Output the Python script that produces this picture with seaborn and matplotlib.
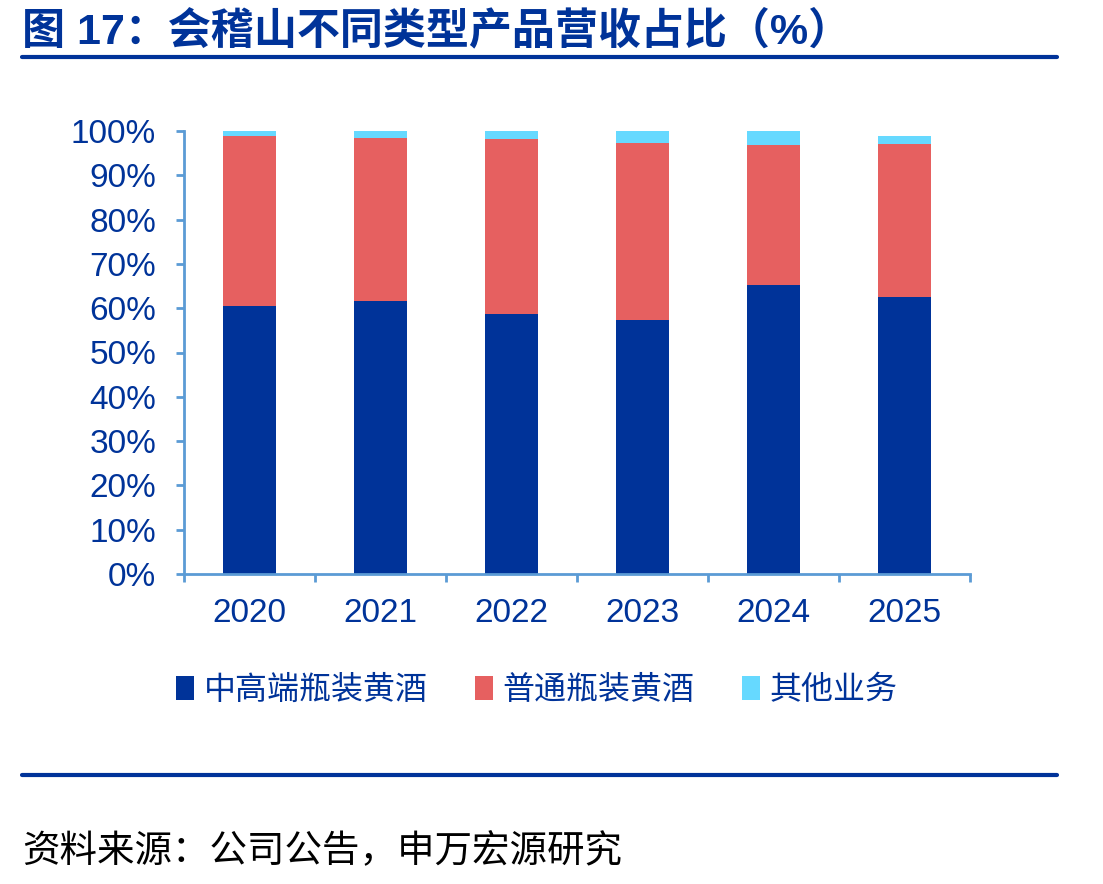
import numpy as np
import pandas as pd
import seaborn as sns
import matplotlib.pyplot as plt
from matplotlib.patches import Patch
from matplotlib.lines import Line2D

# 数据（%）
years = ["2020", "2021", "2022", "2023", "2024", "2025"]
high_end = [60.5, 61.6, 58.7, 57.3, 65.2, 62.5]
regular = [38.4, 36.9, 39.5, 40.0, 31.7, 34.6]
others = [1.1, 1.5, 1.8, 2.7, 3.1, 1.8]
series_names = ["中高端瓶装黄酒", "普通瓶装黄酒", "其他业务"]
colors = ["#003399", "#E66060", "#66D9FF"]

sns.set_theme(style="white")
plt.rcParams['font.family'] = ['Liberation Sans', 'Noto Sans CJK SC', 'DejaVu Sans']

navy = "#003399"
axis_blue = "#5B9BD5"

fig = plt.figure(figsize=(11.03, 8.84), dpi=100)
ax = fig.add_axes([184 / 1103, 1 - 574 / 884, (970 - 184) / 1103, (574 - 131) / 884])

# 累计值，从后往前画
cum1 = np.array(high_end)
cum2 = cum1 + np.array(regular)
cum3 = cum2 + np.array(others)
layers = [cum3, cum2, cum1]
layer_colors = [colors[2], colors[1], colors[0]]
for vals, c in zip(layers, layer_colors):
    df = pd.DataFrame({"year": years, "value": vals})
    sns.barplot(data=df, x="year", y="value", color=c, width=0.4,
                saturation=1, ax=ax, edgecolor="none")

ax.set_xlim(-0.5, len(years) - 0.5)
ax.set_ylim(0, 100)
ax.set_yticks(np.arange(0, 101, 10))
ax.set_yticklabels([f"{v}%" for v in range(0, 101, 10)])
ax.set_xlabel("")
ax.set_ylabel("")

for s in ["top", "right"]:
    ax.spines[s].set_visible(False)
for s in ["left", "bottom"]:
    ax.spines[s].set_color(axis_blue)
    ax.spines[s].set_linewidth(2)

ax.tick_params(axis="y", direction="out", length=6, width=2, color=axis_blue,
               labelcolor=navy, labelsize=24, pad=14, left=True)
ax.tick_params(axis="x", length=0, labelcolor=navy, labelsize=24, pad=17)
# x 轴刻度位于类别之间
ax.set_xticks(np.arange(-0.5, len(years), 1.0), minor=True)
ax.tick_params(axis="x", which="minor", direction="out", length=6, width=2,
               color=axis_blue, bottom=True)

handles = [Patch(facecolor=c, edgecolor="none") for c in colors]
fig.legend(handles, series_names, loc="center", bbox_to_anchor=(537 / 1103, 1 - 691 / 884),
           ncol=3, frameon=False, fontsize=23, handlelength=0.55, handleheight=0.75,
           handletextpad=0.3, columnspacing=1.5, labelcolor=navy)

# 标题与分隔线
fig.text(22 / 1103, 1 - 31 / 884, "图 17：会稽山不同类型产品营收占比（%）", fontsize=31,
         fontweight="bold", color=navy, ha="left", va="center")
fig.add_artist(Line2D([22 / 1103, 1057 / 1103], [1 - 57 / 884, 1 - 57 / 884],
                      color=navy, linewidth=3))
fig.add_artist(Line2D([22 / 1103, 1057 / 1103], [1 - 775 / 884, 1 - 775 / 884],
                      color=navy, linewidth=3))
fig.text(22 / 1103, 1 - 852 / 884, "资料来源：公司公告，申万宏源研究", fontsize=27,
         color="black", ha="left", va="center")

fig.savefig("out.png", dpi=100)
